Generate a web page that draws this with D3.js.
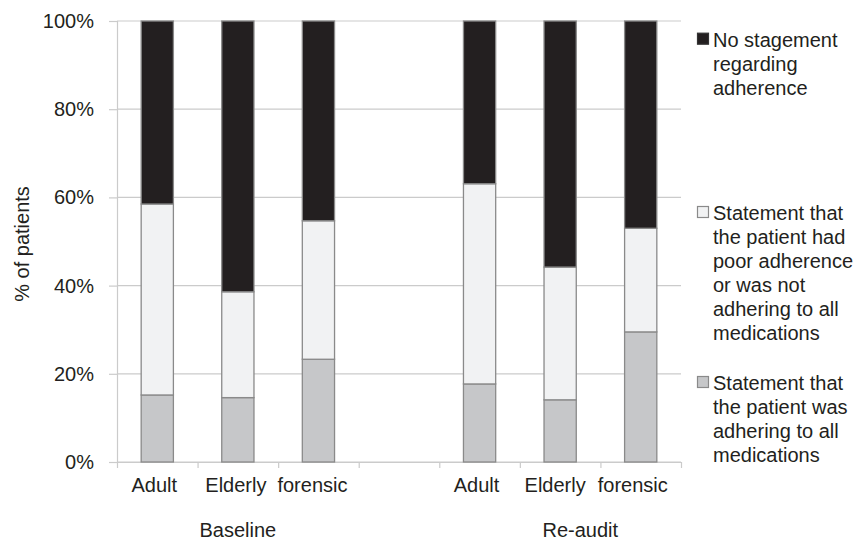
<!DOCTYPE html>
<html>
<head>
<meta charset="utf-8">
<script src="https://cdn.jsdelivr.net/npm/d3@7"></script>
<style>
  html, body { margin: 0; padding: 0; background: #ffffff; }
  svg { display: block; font-family: "Liberation Sans", Arial, Helvetica, sans-serif; }
</style>
</head>
<body>
<svg id="chart" width="867" height="543"></svg>
<script>
// ---- data ----
const slots = ["b-adult", "b-elderly", "b-forensic", "gap", "r-adult", "r-elderly", "r-forensic"];
const categoryLabels = ["Adult", "Elderly", "forensic", "", "Adult", "Elderly", "forensic"];
const groupLabels = ["Baseline", "Re-audit"];
const adhering = [15.2, 14.6, 23.3, null, 17.7, 14.1, 29.5];
const poorAdherence = [43.3, 24.0, 31.4, null, 45.4, 30.1, 23.5];
const noStatement = [41.5, 61.4, 45.3, null, 36.9, 55.8, 47.0];
const yTicks = [0, 20, 40, 60, 80, 100];
const legendLines = [
  ["No stagement", "regarding", "adherence"],
  ["Statement that", "the patient had", "poor adherence", "or was not", "adhering to all", "medications"],
  ["Statement that", "the patient was", "adhering to all", "medications"]
];

// ---- layout ----
const svg = d3.select("#chart");
const mLeft = 117, mRight = 681, mTop = 21, mBottom = 462;
const gridColor = "#cbcbcb";
const fills = ["#c6c7c9", "#f1f2f3", "#231f20"];
const strokes = ["#8a8a8a", "#8a8a8a", "#8a8a8a"];
const labelShift = [-3, -2, -6, 0, -3, -5, -8];

const x = d3.scaleBand().domain(slots).range([mLeft, mRight]).paddingInner(0.6).paddingOuter(0.3);
const y = d3.scaleLinear().domain([0, 100]).range([mBottom, mTop]);

// gridlines
svg.append("g").selectAll("line").data(yTicks).join("line")
  .attr("x1", mLeft).attr("x2", mRight)
  .attr("y1", d => y(d)).attr("y2", d => y(d))
  .attr("stroke", gridColor).attr("stroke-width", 1.2);

// y axis
const yAxis = svg.append("g").attr("transform", `translate(${mLeft},0)`)
  .call(d3.axisLeft(y).tickValues(yTicks).tickFormat(d => d + "%").tickSize(8).tickPadding(15));
yAxis.select(".domain").attr("stroke", gridColor).attr("stroke-width", 1.2);
yAxis.selectAll(".tick line").attr("stroke", gridColor).attr("stroke-width", 1.2);
yAxis.selectAll(".tick text").attr("font-size", 20).attr("fill", "#231f20")
  .attr("font-family", "'Liberation Sans', Arial, sans-serif");

// x axis boundaries
const xb = d3.scaleLinear().domain([0, slots.length]).range([mLeft, mRight]);
const xAxisB = svg.append("g").attr("transform", `translate(0,${mBottom})`)
  .call(d3.axisBottom(xb).tickValues(d3.range(slots.length + 1)).tickFormat("").tickSize(6).tickSizeOuter(0));
xAxisB.select(".domain").attr("stroke", gridColor).attr("stroke-width", 1.2);
xAxisB.selectAll(".tick line").attr("stroke", gridColor).attr("stroke-width", 1.2);

// x labels
const xAxisL = svg.append("g").attr("transform", `translate(0,${mBottom})`)
  .call(d3.axisBottom(x).tickFormat((d, i) => categoryLabels[i]).tickSize(0).tickPadding(16));
xAxisL.select(".domain").remove();
xAxisL.selectAll(".tick text").attr("font-size", 20).attr("fill", "#231f20")
  .attr("font-family", "'Liberation Sans', Arial, sans-serif")
  .attr("dx", (d, i) => labelShift[i]);

// group labels
const step = x.step();
const groupCenters = [x(slots[1]) + x.bandwidth() / 2, x(slots[5]) + x.bandwidth() / 2 + step * 0.25];
svg.append("g").selectAll("text").data(groupLabels).join("text")
  .attr("x", (d, i) => groupCenters[i]).attr("y", 537)
  .attr("text-anchor", "middle").attr("font-size", 20).attr("fill", "#231f20")
  .text(d => d);

// y title
svg.append("text")
  .attr("transform", "translate(29,244) rotate(-90)")
  .attr("text-anchor", "middle").attr("font-size", 20).attr("fill", "#231f20")
  .text("% of patients");

// stacked bars
const rows = slots.map((s, i) => ({ slot: s, a: adhering[i], p: poorAdherence[i], n: noStatement[i] }))
  .filter(r => r.a !== null);
const stacked = d3.stack().keys(["a", "p", "n"])(rows);
svg.append("g").selectAll("g").data(stacked).join("g")
  .attr("fill", (d, i) => fills[i]).attr("stroke", (d, i) => strokes[i])
  .selectAll("rect").data(d => d).join("rect")
  .attr("x", d => x(d.data.slot))
  .attr("width", x.bandwidth())
  .attr("y", d => y(d[1]))
  .attr("height", d => y(d[0]) - y(d[1]))
  .attr("stroke-width", 1.3);

// legend
const legendBaselines = [46.7, 220, 390];
const legendOrder = [2, 1, 0];
const lg = svg.append("g");
legendLines.forEach((lines, k) => {
  const si = legendOrder[k];
  const b = legendBaselines[k];
  lg.append("rect").attr("x", 697.5).attr("y", b - 13.5).attr("width", 11).attr("height", 11)
    .attr("fill", fills[si]).attr("stroke", si === 2 ? "#333" : "#8a8a8a").attr("stroke-width", 1.2);
  const t = lg.append("text").attr("font-size", 20).attr("fill", "#231f20");
  lines.forEach((ln, j) => {
    t.append("tspan").attr("x", 713).attr("y", b + j * 23.9).text(ln);
  });
});
</script>
</body>
</html>
